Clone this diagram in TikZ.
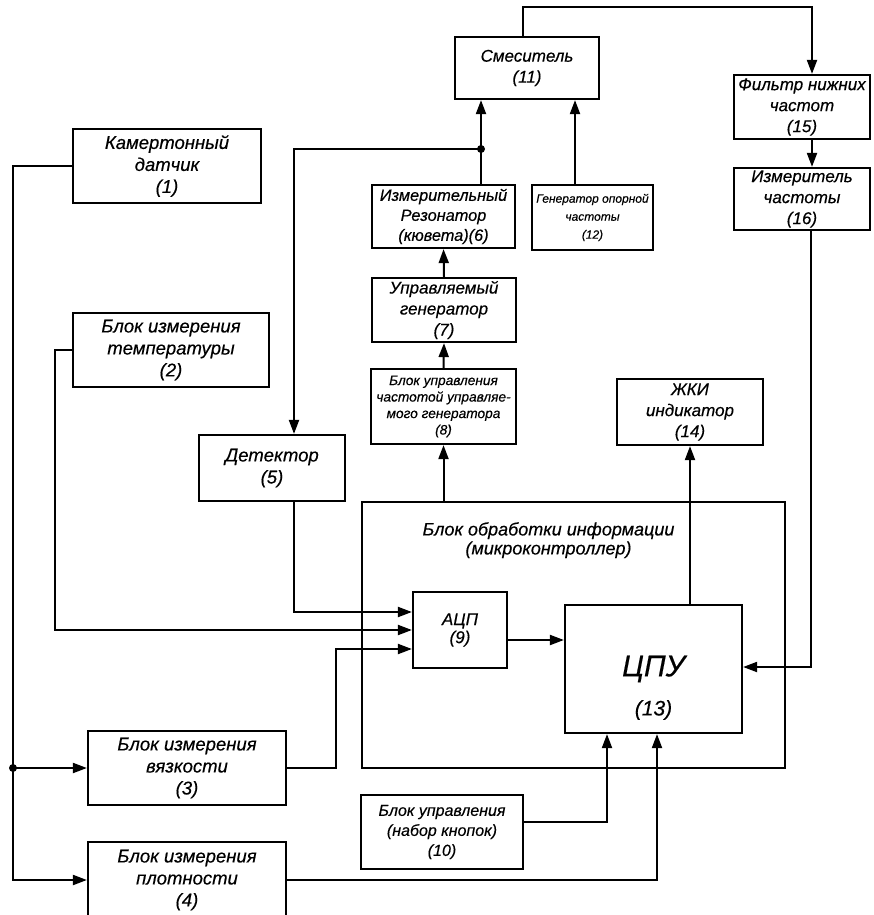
\documentclass[tikz,border=0pt]{standalone}
\usepackage{fontspec}
\newfontfamily\blockfont[FakeBold=0.4]{Liberation Sans}
\usepackage{tikz}
\usetikzlibrary{arrows.meta,calc,positioning}
\tikzstyle{block}=[draw,rectangle,line width=2.2pt,align=center,inner sep=0pt,font=\blockfont\itshape\fontsize{17}{21}\selectfont]
\tikzstyle{bigblock}=[block,font=\blockfont\itshape\fontsize{18.5}{22}\selectfont]
\tikzstyle{smallblock}=[block,font=\blockfont\itshape\fontsize{13.7}{16.5}\selectfont]
\tikzstyle{junction}=[circle,fill,inner sep=0pt,minimum size=8pt]

\begin{document}
\begin{tikzpicture}[x=1pt,y=-1pt,line width=2pt,>={Triangle[length=14pt,width=10pt]}]
\useasboundingbox (0,0) rectangle (873,915);
\draw (167, 166) node [bigblock, minimum width=188pt, minimum height=74pt] (b1) {Камертонный\\датчик\\(1)};
\draw (171, 350) node [bigblock, minimum width=196pt, minimum height=74pt] (b2) {Блок измерения\\температуры\\(2)};
\draw (187, 768) node [bigblock, minimum width=198pt, minimum height=74pt] (b3) {Блок измерения\\вязкости\\(3)};
\draw (187, 880) node [bigblock, minimum width=198pt, minimum height=76pt] (b4) {Блок измерения\\плотности\\(4)};
\draw (272, 468) node [bigblock, minimum width=146pt, minimum height=66pt] (b5) {Детектор\\(5)};
\draw (443.5, 216.5) node [block, font=\blockfont\itshape\fontsize{16.3}{20}\selectfont, minimum width=143pt, minimum height=63pt] (b6) {Измерительный\\Резонатор\\(кювета)(6)};
\draw (444, 310) node [block, minimum width=144pt, minimum height=64pt] (b7) {Управляемый\\генератор\\(7)};
\draw (443.5, 406.5) node [smallblock, minimum width=145pt, minimum height=75pt] (b8) {Блок управления\\частотой управляе-\\мого генератора\\(8)};
\draw (573.5, 635) node [block, minimum width=423pt, minimum height=266pt,
  label={[font=\blockfont\itshape\fontsize{18}{19}\selectfont, align=center, anchor=north, xshift=-25pt, yshift=-17pt]north:{Блок обработки информации\\(микроконтроллер)}}] (mcu) {};
\draw (460, 630) node [block, font=\blockfont\itshape\fontsize{17}{18}\selectfont, minimum width=94pt, minimum height=76pt] (b9) {АЦП\\(9)};
\draw (442, 832) node [block, font=\blockfont\itshape\fontsize{16}{20}\selectfont, minimum width=162pt, minimum height=74pt] (b10) {Блок управления\\(набор кнопок)\\(10)};
\draw (527, 68) node [block, minimum width=144pt, minimum height=62pt] (b11) {Смеситель\\(11)};
\draw (592.5, 217.5) node [block, font=\blockfont\itshape\fontsize{12}{18}\selectfont, minimum width=121pt, minimum height=65pt] (b12) {Генератор опорной\\частоты\\(12)};
\draw (653.5, 669) node [block, font=\blockfont\itshape\fontsize{30}{34}\selectfont, minimum width=177pt, minimum height=128pt,
  label={[font=\blockfont\itshape\fontsize{21}{24}\selectfont, yshift=-41pt]center:(13)}] (b13) {ЦПУ};
\draw (690, 412) node [block, minimum width=146pt, minimum height=66pt] (b14) {ЖКИ\\индикатор\\(14)};
\draw (802, 107) node [block, minimum width=136pt, minimum height=64pt] (b15) {Фильтр нижних\\частот\\(15)};
\draw (802, 199) node [block, minimum width=136pt, minimum height=62pt] (b16) {Измеритель\\частоты\\(16)};
\node [junction] (jl) at (13, 768) {};
\node [junction] (jr) at (481, 149) {};
% sensors to the ADC
\draw (b1.west) -| (jl.center);
\draw[->] (jl.center) -- (b3.west);
\draw[->] (jl.center) |- (b4.west);
\draw[->] (b2.west) -- ++(-17, 0) |- (b9.west);
\draw[->] (b3.east) -- ++(49, 0) |- ([yshift=-19pt]b9.west);
\draw[->] ([xshift=22pt]b5.south) |- ([yshift=18pt]b9.west);
% inputs of the CPU
\draw[->] (b4.east) -| ([xshift=3.5pt]b13.south);
\draw[->] ([yshift=10pt]b10.east) -| ([xshift=-46.5pt]b13.south);
\draw[->] ([yshift=-10pt]b9.east) -- ([yshift=-10pt]b9.east -| b13.west);
\draw[->] ([xshift=9pt]b16.south) |- ([yshift=2pt]b13.east);
\draw[->] (b13.north -| b14.south) -- (b14.south);
% generator chain
\draw[->] (b8.south |- mcu.north) -- (b8.south);
\draw[->] (b8.north) -- (b7.south);
\draw[->] (b7.north) -- (b6.south);
\draw (b6.north -| jr) -- (jr.center);
\draw[->] (jr.center) -- (jr |- b11.south);
\draw[->] (jr.center) -| ([xshift=22pt]b5.north);
\draw[->] ([xshift=-17.5pt]b12.north) -- ([xshift=-17.5pt]b12.north |- b11.south);
% mixer to the frequency meter
\draw[->] ([xshift=-4pt]b11.north) -- ++(0, -29) -| ([xshift=10pt]b15.north);
\draw[->] ([xshift=10pt]b15.south) -- ([xshift=10pt]b16.north);
\end{tikzpicture}
\end{document}
